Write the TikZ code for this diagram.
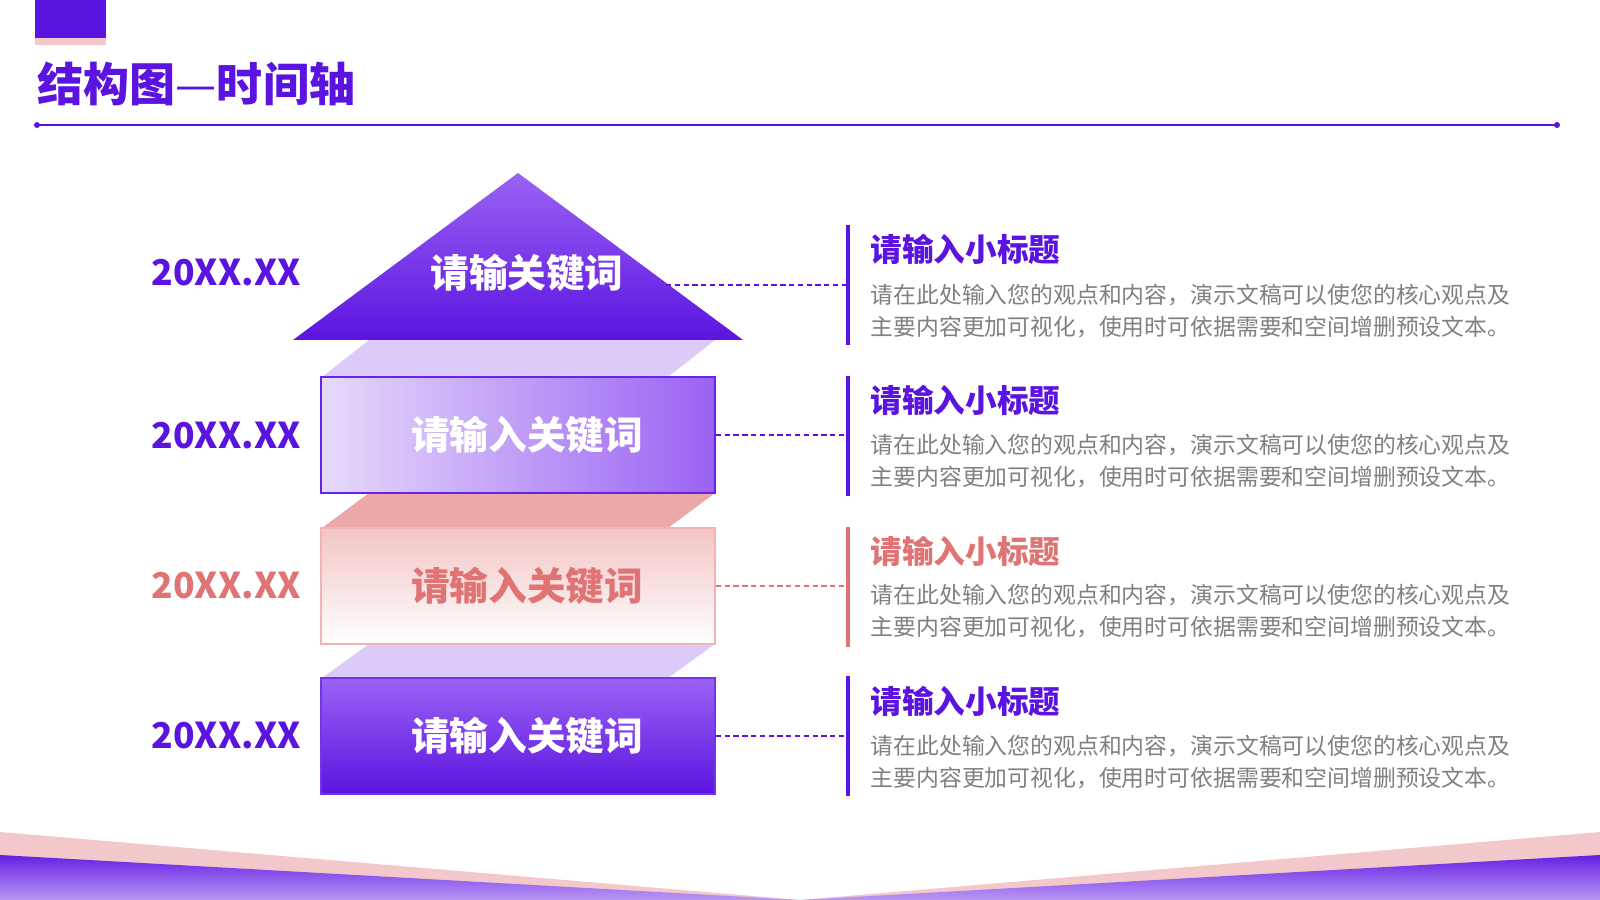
\documentclass[tikz,border=0pt]{standalone}
\usepackage{fontspec}
\setmainfont{Noto Sans CJK SC}
\definecolor{deeppurple}{HTML}{5B14E0}
\definecolor{midpurple}{HTML}{9A62F4}
\definecolor{lavender}{HTML}{DCCBF8}
\definecolor{palelavender}{HTML}{E6DAFA}
\definecolor{rosepink}{HTML}{EBA8A8}
\definecolor{rosetext}{HTML}{E07474}
\definecolor{roseedge}{HTML}{F0B4B4}
\definecolor{rosefill}{HTML}{F3C4C4}
\definecolor{blush}{HTML}{F2C8CA}
\definecolor{bodygray}{HTML}{808080}
\definecolor{bandlight}{HTML}{BA98F7}

\begin{document}
\begin{tikzpicture}[x=0.1mm,y=-0.1mm,
    datelabel/.style={font=\bfseries\fontsize{10.1}{12}\selectfont,text=deeppurple,anchor=west,inner sep=0pt},
    keybox/.style={minimum width=39.4mm,minimum height=11.6mm,inner sep=0pt,line width=0.5pt},
    keyword/.style={font=\bfseries\fontsize{11}{13}\selectfont,text=white,inner sep=0pt},
    subtitle/.style={font=\bfseries\fontsize{9}{11}\selectfont,text=deeppurple,anchor=west,inner sep=0pt},
    bodytext/.style={font=\fontsize{6.5}{8.96}\selectfont,text=bodygray,anchor=west,align=left,inner sep=0pt},
    linkline/.style={dash pattern=on 1.5pt off 1pt,line width=0.45pt,deeppurple},
    sidebar/.style={line width=0.9pt,deeppurple}]
    \fill[white](0,0)rectangle(1600,900);
    \useasboundingbox(0,0)rectangle(1600,900);

    % header
    \fill[deeppurple](35,0)rectangle(106,38);
    \fill[blush](35,38)rectangle(106,45);
    \node[anchor=west,inner sep=0pt,text=deeppurple,font=\bfseries\fontsize{13.1}{15}\selectfont](title)at(37,84){结构图{\mdseries —}时间轴};
    \coordinate(ruleL)at(37,125);
    \coordinate(ruleR)at(1557,125);
    \draw[deeppurple,line width=0.6pt](ruleL)--(ruleR);
    \fill[deeppurple](ruleL)circle(3);
    \fill[deeppurple](ruleR)circle(3);

    % bottom band
    \fill[blush](0,832)--(800,900)--(1600,832)--(1600,900)--(0,900)--cycle;
    \shade[top color=deeppurple!85!midpurple,bottom color=bandlight](0,855)--(800,900)--(1600,855)--(1600,900)--(0,900)--cycle;

    % slanted faces
    \fill[lavender](322,377)--(668,377)--(715,340)--(369,340)--cycle;
    \fill[rosepink](322,528)--(668,528)--(715,493)--(369,493)--cycle;
    \fill[lavender](322,678)--(668,678)--(715,644)--(369,644)--cycle;

    % arrow head
    \shade[top color=midpurple,bottom color=deeppurple](518,173)--(743,340)--(293,340)--cycle;
    \node[keyword](kw1)at(527,273){请输关键词};
    \coordinate(tri)at(666,285);

    % boxes
    \node[keybox,left color=palelavender,right color=midpurple,draw=deeppurple!80!midpurple](box2)at(518,435){};
    \node[keybox,top color=rosefill,bottom color=white,draw=roseedge](box3)at(518,586){};
    \node[keybox,top color=midpurple,bottom color=deeppurple,draw=deeppurple!60!midpurple](box4)at(518,736){};
    \node[keyword](kw2)at([xshift=0.9mm]box2.center){请输入关键词};
    \node[keyword,text=rosetext](kw3)at([xshift=0.9mm]box3.center){请输入关键词};
    \node[keyword](kw4)at([xshift=0.9mm]box4.center){请输入关键词};

    % dates
    \node[datelabel](d1)at(151,273){20XX.XX};
    \node[datelabel](d2)at(151,436){20XX.XX};
    \node[datelabel,text=rosetext](d3)at(151,586){20XX.XX};
    \node[datelabel](d4)at(151,736){20XX.XX};

    % side bars
    \draw[sidebar](848,225)--(848,345);
    \draw[sidebar](848,376)--(848,496);
    \draw[sidebar,rosetext](848,527)--(848,647);
    \draw[sidebar](848,676)--(848,796);
    \coordinate(bar1)at(848,285);
    \coordinate(bar2)at(848,435);
    \coordinate(bar3)at(848,586);
    \coordinate(bar4)at(848,736);

    % connectors
    \draw[linkline](tri)--(bar1);
    \draw[linkline](box2.east)--(bar2);
    \draw[linkline,rosetext](box3.east)--(bar3);
    \draw[linkline](box4.east)--(bar4);

    % descriptions
    \node[subtitle](h1)at(870,249){请输入小标题};
    \node[bodytext](t1)at(870,311){请在此处输入您的观点和内容，演示文稿可以使您的核心观点及\\主要内容更加可视化，使用时可依据需要和空间增删预设文本。};
    \node[subtitle](h2)at(870,400){请输入小标题};
    \node[bodytext](t2)at(870,461){请在此处输入您的观点和内容，演示文稿可以使您的核心观点及\\主要内容更加可视化，使用时可依据需要和空间增删预设文本。};
    \node[subtitle,text=rosetext](h3)at(870,551){请输入小标题};
    \node[bodytext](t3)at(870,611){请在此处输入您的观点和内容，演示文稿可以使您的核心观点及\\主要内容更加可视化，使用时可依据需要和空间增删预设文本。};
    \node[subtitle](h4)at(870,701){请输入小标题};
    \node[bodytext](t4)at(870,762){请在此处输入您的观点和内容，演示文稿可以使您的核心观点及\\主要内容更加可视化，使用时可依据需要和空间增删预设文本。};
\end{tikzpicture}
\end{document}
